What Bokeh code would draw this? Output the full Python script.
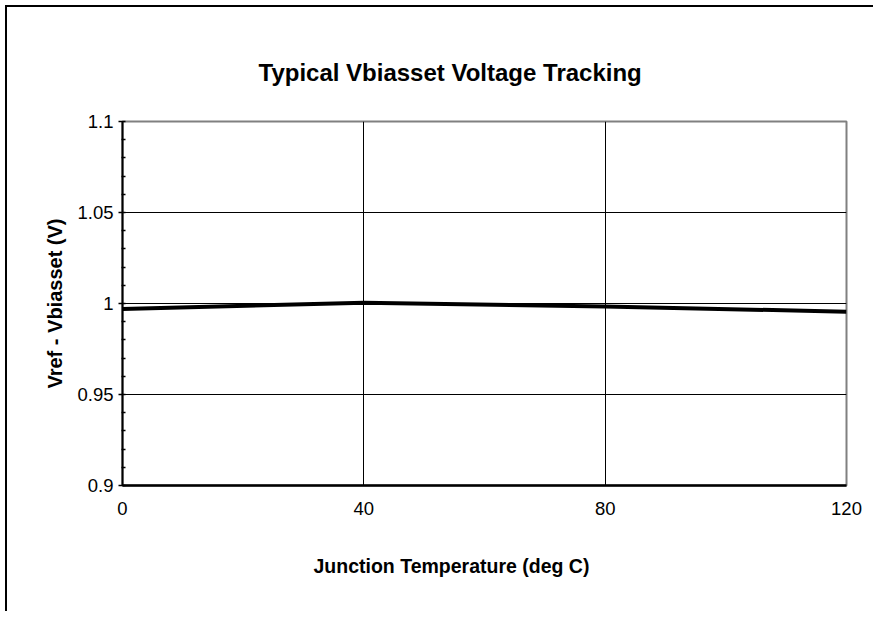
from bokeh.plotting import figure
from bokeh.models import FixedTicker, Range1d, Title
from bokeh.embed import file_html
from bokeh.resources import INLINE

# ---- data ----
temps = [0, 40, 80, 120]
vdiff = [0.9970, 1.0004, 0.9984, 0.9955]

x_ticks = [0, 40, 80, 120]
y_ticks = [0.9, 0.95, 1.0, 1.05, 1.1]
y_minor = [0.91, 0.92, 0.93, 0.94, 0.96, 0.97, 0.98, 0.99,
           1.01, 1.02, 1.03, 1.04, 1.06, 1.07, 1.08, 1.09]
y_labels = {0.9: "0.9", 0.95: "0.95", 1.0: "1", 1.05: "1.05", 1.1: "1.1"}

title_text = "Typical Vbiasset Voltage Tracking"
x_title = "Junction Temperature (deg C)"
y_title = "Vref - Vbiasset (V)"

FONT = "Liberation Sans"
W, H = 873, 611

p = figure(width=W, height=H, output_backend="svg", toolbar_location=None,
           title=None,
           x_range=Range1d(0, 120), y_range=Range1d(0.9, 1.1),
           min_border_left=122, min_border_right=27,
           min_border_top=121, min_border_bottom=118,
           styles={"box-shadow": "inset 5px 5px 0px 0px white, inset 7px 7px 0px 0px black",
                   "background-color": "white"})
p.background_fill_color = "white"
p.border_fill_alpha = 0
p.outline_line_color = "#808080"
p.outline_line_width = 2

# axes
p.xaxis.ticker = FixedTicker(ticks=x_ticks)
p.xaxis.axis_line_color = "black"
p.xaxis.axis_line_width = 2.5
p.xaxis.major_tick_out = 0
p.xaxis.major_tick_in = 0
p.xaxis.minor_tick_out = 0
p.xaxis.minor_tick_in = 0
p.xaxis.major_label_text_font = FONT
p.xaxis.major_label_text_font_size = "18.5px"
p.xaxis.major_label_text_color = "black"
p.xaxis.major_label_standoff = 16

p.yaxis.ticker = FixedTicker(ticks=y_ticks, minor_ticks=y_minor)
p.yaxis.major_label_overrides = y_labels
p.yaxis.axis_line_color = "black"
p.yaxis.axis_line_width = 2
p.yaxis.major_tick_out = 4
p.yaxis.major_tick_in = 3
p.yaxis.major_tick_line_color = "black"
p.yaxis.major_tick_line_width = 1.5
p.yaxis.minor_tick_out = 1
p.yaxis.minor_tick_in = 3
p.yaxis.minor_tick_line_color = "black"
p.yaxis.minor_tick_line_width = 1.5
p.yaxis.major_label_text_font = FONT
p.yaxis.major_label_text_font_size = "18.5px"
p.yaxis.major_label_text_color = "black"
p.yaxis.major_label_standoff = 5
p.yaxis.axis_label = y_title
p.yaxis.axis_label_text_font = FONT
p.yaxis.axis_label_text_font_style = "bold"
p.yaxis.axis_label_text_font_size = "20px"
p.yaxis.axis_label_text_color = "black"
p.yaxis.axis_label_standoff = 8

# grid
p.xgrid.ticker = FixedTicker(ticks=x_ticks)
p.ygrid.ticker = FixedTicker(ticks=y_ticks)
p.xgrid.grid_line_color = "black"
p.ygrid.grid_line_color = "black"
p.xgrid.grid_line_width = 1
p.ygrid.grid_line_width = 1

# data line
p.line(temps, vdiff, line_color="black", line_width=4)

# chart title and x-axis title as panels
p.add_layout(Title(text=title_text, align="left", offset=136, standoff=71,
                   text_font=FONT, text_font_style="bold", text_font_size="24px",
                   text_color="black"), "above")
p.add_layout(Title(text=x_title, align="left", offset=191, standoff=70,
                   text_font=FONT, text_font_style="bold", text_font_size="19.5px",
                   text_color="black"), "below")

open("out.html", "w").write(file_html(p, INLINE))
